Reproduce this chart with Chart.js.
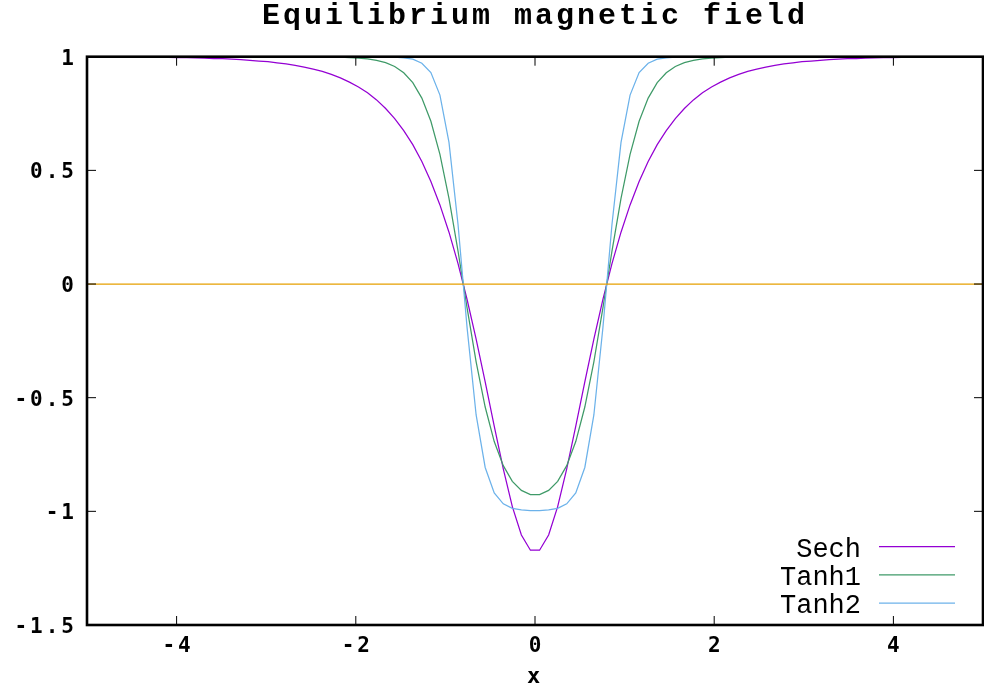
<!DOCTYPE html>
<html><head><meta charset="utf-8">
<script src="https://cdn.jsdelivr.net/npm/chart.js@4.4.1/dist/chart.umd.min.js"></script>
<style>html,body{margin:0;padding:0;background:#fff;overflow:hidden}canvas{display:block}</style>
</head><body>
<canvas id="c" width="984" height="691"></canvas>
<script>
const chartTitle = 'Equilibrium magnetic field';
const xAxisTitle = 'x';
const seriesNames = ['Sech', 'Tanh1', 'Tanh2'];

const xSamples = [
-5.000,-4.899,-4.798,-4.697,-4.596,-4.495,-4.394,-4.293,-4.192,-4.091,
-3.990,-3.889,-3.788,-3.687,-3.586,-3.485,-3.384,-3.283,-3.182,-3.081,
-2.980,-2.879,-2.778,-2.677,-2.576,-2.475,-2.374,-2.273,-2.172,-2.071,
-1.970,-1.869,-1.768,-1.667,-1.566,-1.465,-1.364,-1.263,-1.162,-1.061,
-0.960,-0.859,-0.758,-0.657,-0.556,-0.455,-0.354,-0.253,-0.152,-0.051,
0.051,0.152,0.253,0.354,0.455,0.556,0.657,0.758,0.859,0.960,
1.061,1.162,1.263,1.364,1.465,1.566,1.667,1.768,1.869,1.970,
2.071,2.172,2.273,2.374,2.475,2.576,2.677,2.778,2.879,2.980,
3.081,3.182,3.283,3.384,3.485,3.586,3.687,3.788,3.889,3.990,
4.091,4.192,4.293,4.394,4.495,4.596,4.697,4.798,4.899,5.000];

const sechValues = [
0.999,0.999,0.999,0.999,0.999,0.998,0.998,0.998,0.997,0.997,
0.996,0.996,0.995,0.994,0.992,0.991,0.989,0.987,0.984,0.981,
0.978,0.973,0.968,0.962,0.954,0.945,0.935,0.922,0.907,0.888,
0.867,0.841,0.810,0.772,0.728,0.675,0.613,0.539,0.451,0.348,
0.228,0.090,-0.068,-0.242,-0.431,-0.625,-0.813,-0.979,-1.104,-1.171,
-1.171,-1.104,-0.979,-0.813,-0.625,-0.431,-0.242,-0.068,0.090,0.228,
0.348,0.451,0.539,0.613,0.675,0.728,0.772,0.810,0.841,0.867,
0.888,0.907,0.922,0.935,0.945,0.954,0.962,0.968,0.973,0.978,
0.981,0.984,0.987,0.989,0.991,0.992,0.994,0.995,0.996,0.996,
0.997,0.997,0.998,0.998,0.998,0.999,0.999,0.999,0.999,0.999];

const tanh1Values = [
1.000,1.000,1.000,1.000,1.000,1.000,1.000,1.000,1.000,1.000,
1.000,1.000,1.000,1.000,1.000,1.000,1.000,1.000,1.000,1.000,
1.000,1.000,1.000,1.000,1.000,1.000,0.999,0.999,0.998,0.996,
0.994,0.990,0.984,0.974,0.957,0.929,0.886,0.818,0.716,0.570,
0.377,0.145,-0.105,-0.342,-0.541,-0.693,-0.799,-0.868,-0.908,-0.926,
-0.926,-0.908,-0.868,-0.799,-0.693,-0.541,-0.342,-0.105,0.145,0.377,
0.570,0.716,0.818,0.886,0.929,0.957,0.974,0.984,0.990,0.994,
0.996,0.998,0.999,0.999,1.000,1.000,1.000,1.000,1.000,1.000,
1.000,1.000,1.000,1.000,1.000,1.000,1.000,1.000,1.000,1.000,
1.000,1.000,1.000,1.000,1.000,1.000,1.000,1.000,1.000,1.000];

const tanh2Values = [
1.000,1.000,1.000,1.000,1.000,1.000,1.000,1.000,1.000,1.000,
1.000,1.000,1.000,1.000,1.000,1.000,1.000,1.000,1.000,1.000,
1.000,1.000,1.000,1.000,1.000,1.000,1.000,1.000,1.000,1.000,
1.000,1.000,1.000,0.999,0.998,0.995,0.989,0.971,0.930,0.831,
0.623,0.262,-0.192,-0.576,-0.807,-0.919,-0.967,-0.987,-0.994,-0.997,
-0.997,-0.994,-0.987,-0.967,-0.919,-0.807,-0.576,-0.192,0.262,0.623,
0.831,0.930,0.971,0.989,0.995,0.998,0.999,1.000,1.000,1.000,
1.000,1.000,1.000,1.000,1.000,1.000,1.000,1.000,1.000,1.000,
1.000,1.000,1.000,1.000,1.000,1.000,1.000,1.000,1.000,1.000,
1.000,1.000,1.000,1.000,1.000,1.000,1.000,1.000,1.000,1.000];

const zeroLineX = [-5, 5];
const zeroLineY = [0, 0];

const xTickValues = [-4, -2, 0, 2, 4];
const xTickLabels = ['-4', '-2', '0', '2', '4'];
const yTickValues = [-1.5, -1, -0.5, 0, 0.5, 1];
const yTickLabels = ['-1.5', '-1', '-0.5', '0', '0.5', '1'];

const seriesColors = ['#9400D3', '#3F9A68', '#6CB2EA'];
const zeroColor = '#E69F00';

function pairs(xs, ys) { return xs.map((x, i) => ({x: x, y: ys[i]})); }

const framePlugin = {
  id: 'frame',
  beforeDraw(chart) { chart.ctx.letterSpacing = '3px'; },
  afterDatasetsDraw(chart) {
    const ctx = chart.ctx, a = chart.chartArea, xs = chart.scales.x, ys = chart.scales.y;
    ctx.save();
    ctx.strokeStyle = '#000';
    ctx.lineWidth = 1;
    ctx.beginPath();
    xs.ticks.forEach(t => {
      const px = xs.getPixelForValue(t.value);
      ctx.moveTo(px, a.bottom); ctx.lineTo(px, a.bottom - 9);
      ctx.moveTo(px, a.top); ctx.lineTo(px, a.top + 9);
    });
    ys.ticks.forEach(t => {
      const py = ys.getPixelForValue(t.value);
      ctx.moveTo(a.left, py); ctx.lineTo(a.left + 9, py);
      ctx.moveTo(a.right, py); ctx.lineTo(a.right - 9, py);
    });
    ctx.stroke();
    ctx.lineWidth = 2.6;
    ctx.strokeRect(a.left, a.top, a.right - a.left, a.bottom - a.top);

    // key (legend) inside the plot, bottom right
    ctx.letterSpacing = '0px';
    ctx.font = '27px "Liberation Mono"';
    ctx.textAlign = 'right';
    ctx.textBaseline = 'middle';
    ctx.fillStyle = '#000';
    const items = chart.data.datasets.filter(d => !d.hideInKey);
    const rowH = 28.2;
    const lineEnd = a.right - 28, lineStart = lineEnd - 76;
    items.forEach((d, i) => {
      const yy = a.bottom - 22 - (items.length - 1 - i) * rowH;
      ctx.fillText(d.label, lineStart - 18, yy + 3);
      ctx.strokeStyle = d.borderColor;
      ctx.lineWidth = d.borderWidth;
      ctx.beginPath(); ctx.moveTo(lineStart, yy); ctx.lineTo(lineEnd, yy); ctx.stroke();
    });
    ctx.restore();
  }
};

Chart.defaults.color = '#000';

new Chart(document.getElementById('c'), {
  type: 'line',
  data: {
    datasets: [
      {label: seriesNames[0], data: pairs(xSamples, sechValues), borderColor: seriesColors[0], borderWidth: 1.25, order: 4},
      {label: seriesNames[1], data: pairs(xSamples, tanh1Values), borderColor: seriesColors[1], borderWidth: 1.25, order: 3},
      {label: seriesNames[2], data: pairs(xSamples, tanh2Values), borderColor: seriesColors[2], borderWidth: 1.25, order: 2},
      {label: '0', data: pairs(zeroLineX, zeroLineY), borderColor: zeroColor, borderWidth: 1.25, order: 1, hideInKey: true}
    ]
  },
  options: {
    responsive: false,
    animation: false,
    devicePixelRatio: 1,
    elements: {point: {radius: 0, hoverRadius: 0}, line: {tension: 0, fill: false}},
    layout: {padding: {left: 0, right: 1, top: 0, bottom: 0}},
    plugins: {
      legend: {display: false},
      tooltip: {enabled: false},
      title: {
        display: true, text: chartTitle, fullSize: false,
        font: {family: '"Liberation Mono"', size: 30, weight: 'bold', lineHeight: 1},
        padding: {top: 1, bottom: 25.7}, color: '#000'
      }
    },
    scales: {
      x: {
        type: 'linear', min: -5, max: 5,
        afterBuildTicks: s => { s.ticks = xTickValues.map(v => ({value: v})); },
        afterFit: s => { s.height = 66; },
        grid: {display: false, drawTicks: false},
        border: {display: false},
        ticks: {
          padding: 8.5, labelOffset: 1.5, maxRotation: 0, autoSkip: false,
          font: {family: '"DejaVu Sans Mono"', size: 21, weight: 'bold', lineHeight: 1.2},
          callback: v => xTickLabels[xTickValues.indexOf(v)]
        },
        title: {
          display: true, text: xAxisTitle,
          font: {family: '"DejaVu Sans Mono"', size: 22, weight: 'bold', lineHeight: 1.2},
          padding: {top: 0, bottom: 0.5}
        }
      },
      y: {
        type: 'linear', min: -1.5, max: 1,
        afterBuildTicks: s => { s.ticks = yTickValues.map(v => ({value: v})); },
        afterFit: s => { s.width = 87; },
        grid: {display: false, drawTicks: false},
        border: {display: false},
        ticks: {
          padding: 10, labelOffset: 2.5, autoSkip: false,
          font: {family: '"DejaVu Sans Mono"', size: 21, weight: 'bold', lineHeight: 1.2},
          callback: v => yTickLabels[yTickValues.indexOf(v)]
        }
      }
    }
  },
  plugins: [framePlugin]
});
</script>
</body></html>
